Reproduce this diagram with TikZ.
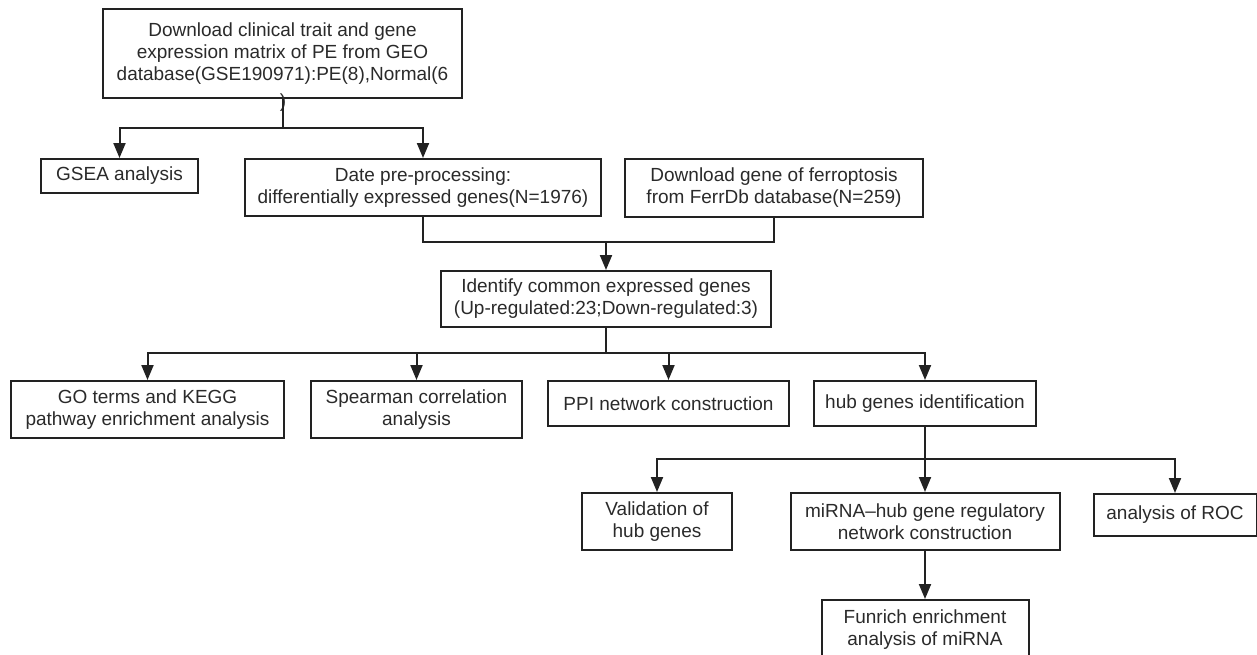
\documentclass[tikz,border=0pt]{standalone}
\usepackage{fontspec}
\setmainfont{Liberation Sans}
\usetikzlibrary{arrows.meta}
\definecolor{ink}{HTML}{222222}
\definecolor{txt}{HTML}{2a2a2a}
\begin{document}
\begin{tikzpicture}[x=1pt,y=-1pt,
  box/.style={draw=ink,line width=2pt,align=center,inner sep=0pt,
    font=\fontsize{19}{22}\selectfont,text=txt},
  ln/.style={draw=ink,line width=2pt},
  arr/.style={draw=ink,line width=2pt,-{Triangle[length=15pt,width=12pt]}}]
\useasboundingbox (0,0) rectangle (1257,654);
\clip (0,0) rectangle (1257,654);

\node[box,minimum width=359pt,minimum height=89pt,line width=2.6pt] (top) at (282.5,53.5)
  {Download clinical trait and gene\\expression matrix of PE from GEO\\database(GSE190971):PE(8),Normal(6};
\node[font=\fontsize{19}{22}\selectfont,text=txt,inner sep=0pt] (paren) at (283,103) {)};

\node[box,minimum width=157pt,minimum height=34pt] (gsea) at (119.5,176) {GSEA analysis};
\node[box,minimum width=356pt,minimum height=57pt] (date) at (423,187.5)
  {Date pre-processing:\\differentially expressed genes(N=1976)};
\node[box,minimum width=298pt,minimum height=58pt] (ferr) at (774,188)
  {Download gene of ferroptosis\\from FerrDb database(N=259)};
\node[box,minimum width=330pt,minimum height=56pt] (ident) at (606,299)
  {Identify common expressed genes\\(Up-regulated:23;Down-regulated:3)};

\node[box,minimum width=273pt,minimum height=57pt] (go) at (147.5,409.5)
  {GO terms and KEGG\\pathway enrichment analysis};
\node[box,minimum width=211pt,minimum height=57pt] (spear) at (416.5,409.5)
  {Spearman correlation\\analysis};
\node[box,minimum width=241pt,minimum height=45pt] (ppi) at (668.5,403.5)
  {PPI network construction};
\node[box,minimum width=222pt,minimum height=45pt] (hub) at (925,403.5)
  {hub genes identification};

\node[box,minimum width=150pt,minimum height=57pt] (valid) at (657,521.5)
  {Validation of\\hub genes};
\node[box,minimum width=269pt,minimum height=57pt] (mirna) at (925,521.5)
  {miRNA–hub gene regulatory\\network construction};
\node[box,minimum width=163pt,minimum height=42pt] (roc) at (1175,515)
  {analysis of ROC};
\node[box,minimum width=207pt,minimum height=60pt] (fun) at (925,630)
  {Funrich enrichment\\analysis of miRNA};

\coordinate (j1) at (282.5,128);
\draw[ln] (top.south) -- (j1);
\draw[arr] (j1) -| (gsea);
\draw[arr] (j1) -| (date);

\coordinate (j2) at (606,242);
\draw[ln] (date.south) |- (j2);
\draw[ln] (ferr.south) |- (j2);
\draw[arr] (j2) -- (ident.north);

\coordinate (j3) at (606,353);
\draw[ln] (ident.south) -- (j3);
\draw[arr] (j3) -| (go);
\draw[arr] (j3) -| (spear);
\draw[arr] (j3) -| (ppi);
\draw[arr] (j3) -| (hub);

\coordinate (j4) at (925,459);
\draw[ln] (hub.south) -- (j4);
\draw[arr] (j4) -| (valid);
\draw[arr] (j4) -- (mirna.north);
\draw[arr] (j4) -| (roc);

\draw[arr] (mirna.south) -- (fun.north);
\end{tikzpicture}
\end{document}
